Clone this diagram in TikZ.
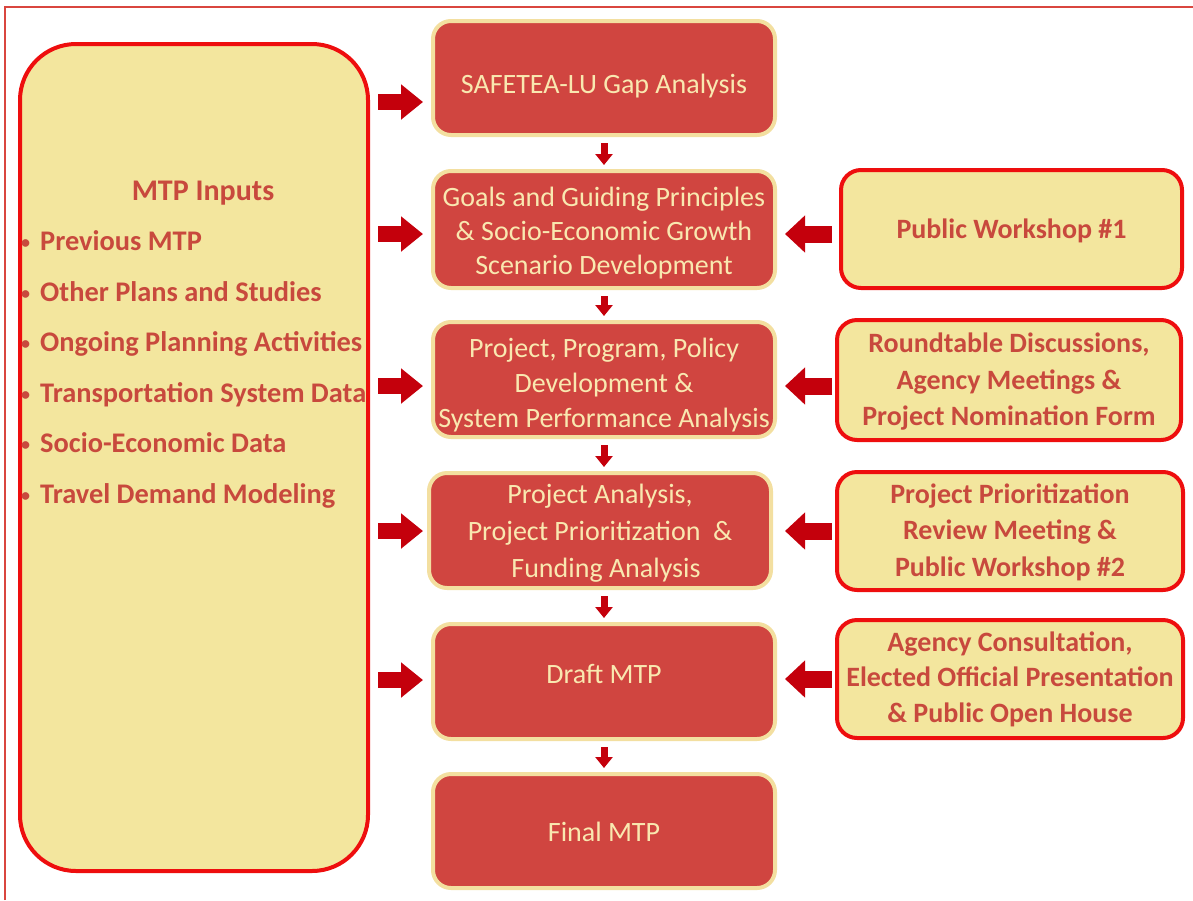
\documentclass[tikz,border=0pt]{standalone}
\usepackage{fontspec}
\setmainfont{Carlito}
\usetikzlibrary{arrows.meta}
\definecolor{boxred}{HTML}{D04540}
\definecolor{cream}{HTML}{F3DFA0}
\definecolor{creamtext}{HTML}{F9E8B0}
\definecolor{paleyellow}{HTML}{F3E69E}
\definecolor{brightred}{HTML}{EE0E0E}
\definecolor{textred}{HTML}{C8493D}
\definecolor{arrowred}{HTML}{C4000C}
\definecolor{framered}{HTML}{D9463F}
\begin{document}
\begin{tikzpicture}[x=1pt,y=-1pt,
  stepbox/.style={draw=cream, line width=4pt, fill=boxred, rounded corners=18pt, inner sep=0pt},
  steptext/.style={text=creamtext, align=center, font=\fontsize{28}{34}\selectfont, inner sep=0pt},
  inputbox/.style={draw=brightred, line width=4pt, fill=paleyellow, rounded corners=20pt, inner sep=0pt},
  inputtext/.style={text=textred, align=center, font=\bfseries\fontsize{28}{36.5}\selectfont, inner sep=0pt},
  bigbox/.style={draw=brightred, line width=4pt, fill=paleyellow, rounded corners=56pt},
  itemtext/.style={text=textred, font=\bfseries\fontsize{28.4}{30}\selectfont, inner sep=0pt, anchor=base west},
  rarrow/.style={arrowred, line width=16pt, -{Triangle[length=22pt,width=34pt]}, shorten <=8pt, shorten >=8pt},
  larrow/.style={arrowred, line width=17pt, -{Triangle[length=20pt,width=36pt]}},
  darrow/.style={arrowred, line width=7pt, -{Triangle[length=11pt,width=17pt]}, shorten <=6pt, shorten >=4pt}
]
\useasboundingbox (0,0) rectangle (1193,900);
% frame
\draw[framered, line width=2pt] (5,900) -- (5,6.5) -- (1193,6.5);

% left input box
\node[bigbox, minimum width=348pt, minimum height=827pt] (inputs) at (194,457.5) {};
\node[itemtext, anchor=base, font=\bfseries\fontsize{30}{30}\selectfont] (title) at (203,200) {MTP Inputs};
\foreach \i/\t/\yy in {1/Previous MTP/250, 2/Other Plans and Studies/301, 3/Ongoing Planning Activities/351, 4/Transportation System Data/402, 5/Socio-Economic Data/452, 6/Travel Demand Modeling/503}{
  \node[itemtext] (in\i) at (21,\yy) {\makebox[19pt][l]{\fontsize{18}{18}\selectfont\raisebox{2pt}{•}}\t};
}

% centre column
\node[stepbox, minimum width=342pt, minimum height=114pt] (gap) at (604,78) {};
\node[steptext] (gapt) at ([yshift=-8pt]gap.center) {SAFETEA-LU Gap Analysis};
\node[stepbox, minimum width=342pt, minimum height=117pt] (goals) at (604,229.5) {};
\node[steptext] (goalst) at ([yshift=-4pt]goals.center) {Goals and Guiding Principles\\ \& Socio-Economic Growth\\ Scenario Development};
\node[stepbox, minimum width=342pt, minimum height=115pt] (policy) at (604,379.5) {};
\node[steptext, font=\fontsize{28}{35}\selectfont] (policyt) at ([yshift=-6pt]policy.center) {Project, Program, Policy\\ Development \&\\ System Performance Analysis};
\node[stepbox, minimum width=342pt, minimum height=115pt] (analysis) at (600,530.5) {};
\node[steptext, font=\fontsize{28}{37}\selectfont] (analysist) at ([yshift=-3pt]analysis.center) {Project Analysis,\\ Project Prioritization~~\&\\ \hspace*{12pt}Funding Analysis};
\node[stepbox, minimum width=342pt, minimum height=115pt] (draft) at (604,681.5) {};
\node[steptext] (draftt) at ([yshift=8pt]draft.center) {Draft MTP};
\node[stepbox, minimum width=342pt, minimum height=114pt] (final) at (604,831) {};
\node[steptext] (finalt) at ([yshift=-1pt]final.center) {Final MTP};

% right column
\node[inputbox, minimum width=341pt, minimum height=118pt] (pw1) at (1011.5,229) {};
\node[inputtext] (pw1t) at ([yshift=-2pt]pw1.center) {Public Workshop \#1};
\node[inputbox, minimum width=344pt, minimum height=120pt] (round) at (1009,380) {};
\node[inputtext] (roundt) at ([yshift=-2pt]round.center) {Roundtable Discussions,\\ Agency Meetings \&\\ Project Nomination Form};
\node[inputbox, minimum width=346pt, minimum height=118pt] (review) at (1010,531) {};
\node[inputtext] (reviewt) at ([yshift=-1pt]review.center) {Project Prioritization\\ Review Meeting \&\\ Public Workshop \#2};
\node[inputbox, minimum width=346pt, minimum height=118pt] (consult) at (1010,679) {};
\node[inputtext, font=\bfseries\fontsize{28}{35.5}\selectfont] (consultt) at (consult.center) {Agency Consultation,\\ Elected Official Presentation\\ \& Public Open House};

% arrow rows
\coordinate (r1) at (0,102);
\coordinate (r2) at (0,234);
\coordinate (r3) at (0,386);
\coordinate (r4) at (0,531);
\coordinate (r5) at (0,680);
\coordinate (l4) at (0,679);

\draw[rarrow] (inputs.east |- r1) -- (gap.west |- r1);
\draw[rarrow] (inputs.east |- r2) -- (goals.west |- r2);
\draw[rarrow] (inputs.east |- r3) -- (policy.west |- r3);
\draw[rarrow, shorten >=4pt] (inputs.east |- r4) -- (analysis.west |- r4);
\draw[rarrow] (inputs.east |- r5) -- (draft.west |- r5);

\draw[larrow, shorten <=7pt, shorten >=8pt] (pw1.west |- r2) -- (goals.east |- r2);
\draw[larrow, shorten <=3pt, shorten >=8pt] (round.west |- r3) -- (policy.east |- r3);
\draw[larrow, shorten <=3pt, shorten >=12pt] (review.west |- r4) -- (analysis.east |- r4);
\draw[larrow, shorten <=3pt, shorten >=8pt] (consult.west |- l4) -- (draft.east |- l4);

\draw[darrow] (gap.south) -- (goals.north);
\draw[darrow] (goals.south) -- (policy.north);
\draw[darrow] (policy.south) -- (policy.south |- analysis.north);
\draw[darrow] (analysis.south -| draft.north) -- (draft.north);
\draw[darrow] (draft.south) -- (final.north);
\end{tikzpicture}
\end{document}
